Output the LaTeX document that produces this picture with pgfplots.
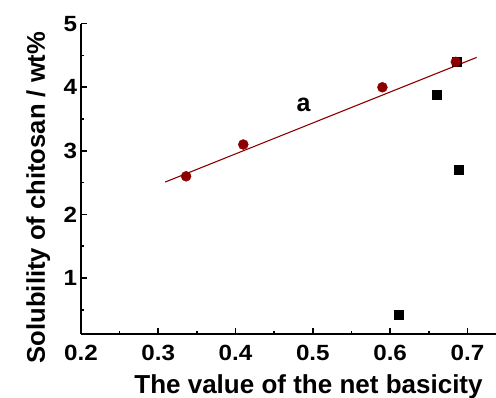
\documentclass[border=0pt]{standalone}
\usepackage{fontspec}
\setmainfont{Liberation Sans}
\usepackage{pgfplots}
\pgfplotsset{compat=1.18}
\definecolor{wine}{RGB}{140,0,0}
\begin{document}
\begin{tikzpicture}
\begin{axis}[
  name=ax,
  scale only axis, width=415pt, height=310.3pt,
  xmin=0.2, xmax=0.737, ymin=0.12, ymax=5,
  axis x line*=bottom, axis y line*=left,
  axis line style={-, line width=1.6pt, black},
  tick align=inside,
  xtick={0.2,0.3,0.4,0.5,0.6,0.7},
  ytick={1,2,3,4,5},
  minor xtick={0.25,0.35,0.45,0.55,0.65},
  minor ytick={0.5,1.5,2.5,3.5,4.5},
  major tick length=6pt, minor tick length=3pt,
  every tick/.append style={black, line width=1.6pt},
  /pgf/number format/assume math mode=true,
  xticklabel style={anchor=base, yshift=-27pt, font=\fontsize{22}{22}\selectfont\bfseries, xscale=1.1},
  yticklabel style={font=\fontsize{22}{22}\selectfont\bfseries, xscale=1.1},
  xlabel={The value of the net basicity},
  ylabel={Solubility of chitosan / wt\%},
  xlabel style={at={([xshift=20pt,yshift=-60pt]axis description cs:0.5,0)}, anchor=base, font=\fontsize{26}{26}\selectfont\bfseries},
  ylabel style={at={([xshift=-36pt,yshift=-18.6pt]axis description cs:0,0.5)}, anchor=base, rotate=0, font=\fontsize{25.6}{25.6}\selectfont\bfseries},
  clip=false,
]
\addplot[only marks, mark=square*, mark size=4.5pt, black] coordinates {
  (0.611,0.42) (0.660,3.89) (0.689,2.70) (0.686,4.40)
};
\addplot[wine, line width=1.1pt] coordinates {(0.309,2.51) (0.712,4.47)};
\addplot[only marks, mark=*, mark size=5pt, wine] coordinates {
  (0.336,2.60) (0.410,3.10) (0.590,4.00) (0.685,4.40)
};
\node at (axis cs:0.488,3.73) {\fontsize{25}{25}\selectfont\bfseries a};
\end{axis}
\pgfresetboundingbox
\path ([shift={(-81pt,-64pt)}]ax.south west) rectangle ([shift={(0pt,23.7pt)}]ax.north east);
\end{tikzpicture}
\end{document}
